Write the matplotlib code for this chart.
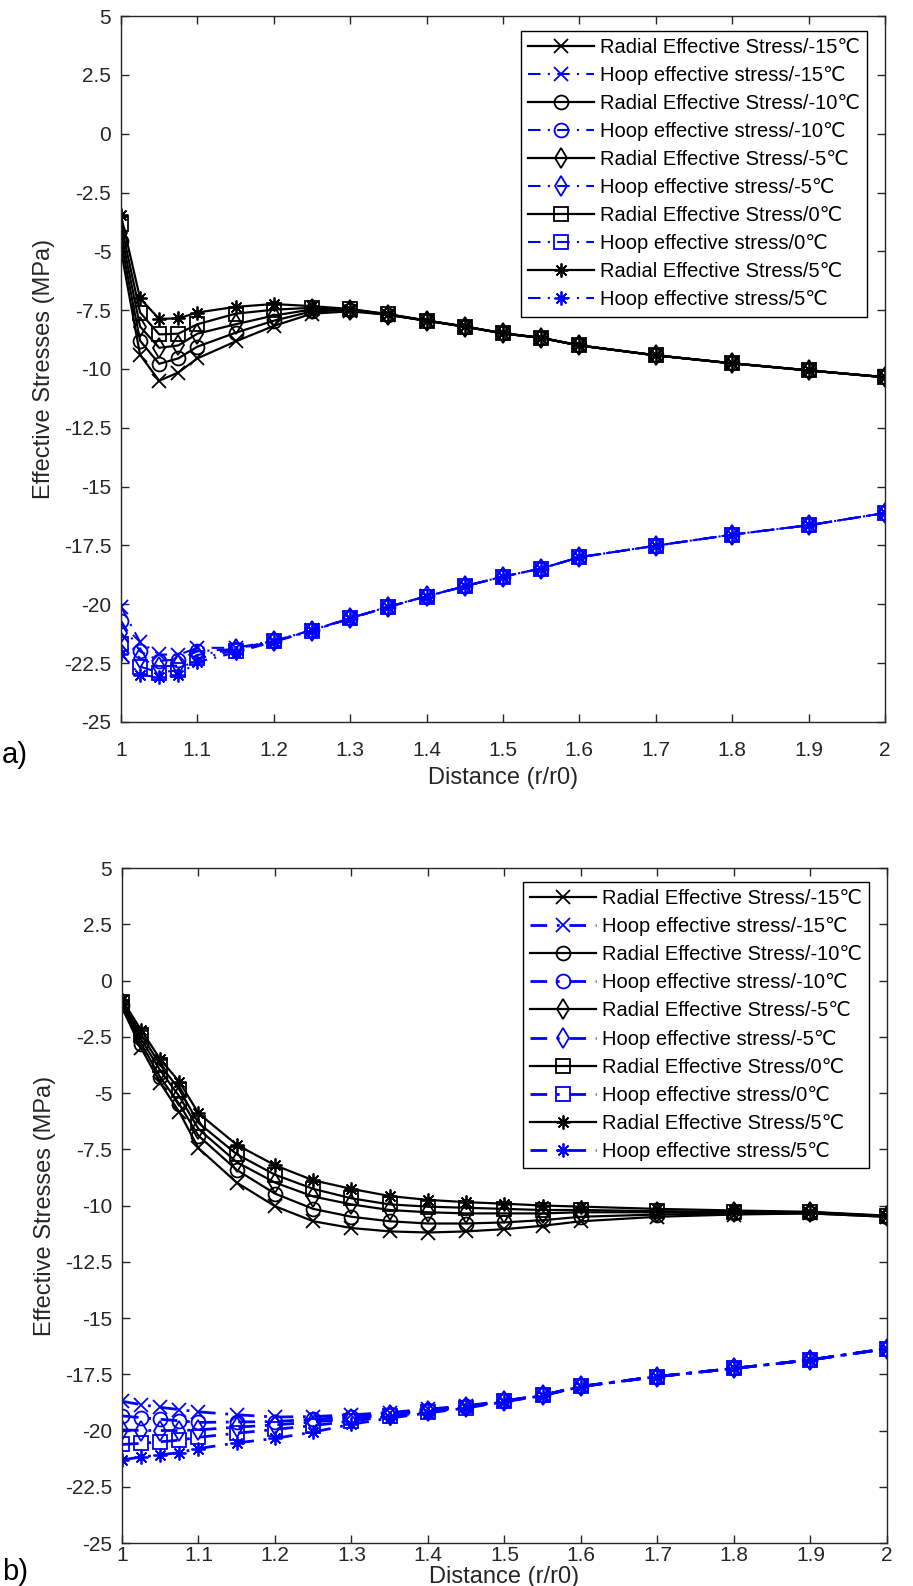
import numpy as np
import matplotlib
matplotlib.use('Agg')
import matplotlib.pyplot as plt

plt.rcParams['font.family'] = ['Liberation Sans', 'DejaVu Sans']
plt.rcParams['axes.unicode_minus'] = False

# radial distance r/r0
dist = [1.0, 1.025, 1.05, 1.075, 1.1, 1.15, 1.2, 1.25, 1.3, 1.35,
        1.4, 1.45, 1.5, 1.55, 1.6, 1.7, 1.8, 1.9, 2.0]
temps = ['-15', '-10', '-5', '0', '5']

# a) radial effective stress (MPa)
rad_a_m15 = [-4.95, -9.4, -10.5, -10.15, -9.55, -8.83, -8.17, -7.65, -7.55, -7.7,
             -7.95, -8.2, -8.49, -8.68, -9.0, -9.42, -9.76, -10.06, -10.35]
rad_a_m10 = [-4.57, -8.8, -9.78, -9.55, -9.05, -8.46, -7.95, -7.55, -7.5, -7.7,
             -7.95, -8.2, -8.49, -8.68, -9.0, -9.42, -9.76, -10.06, -10.35]
rad_a_m5 = [-4.2, -8.2, -9.1, -9.0, -8.5, -8.1, -7.73, -7.47, -7.48, -7.69,
            -7.95, -8.2, -8.49, -8.68, -9.0, -9.42, -9.76, -10.06, -10.35]
rad_a_0 = [-3.85, -7.6, -8.53, -8.5, -8.1, -7.65, -7.48, -7.4, -7.47, -7.68,
           -7.94, -8.2, -8.48, -8.68, -9.0, -9.42, -9.76, -10.06, -10.35]
rad_a_p5 = [-3.47, -7.0, -7.87, -7.85, -7.6, -7.36, -7.24, -7.33, -7.45, -7.67,
            -7.94, -8.19, -8.48, -8.67, -9.0, -9.42, -9.76, -10.06, -10.35]

# a) hoop effective stress (MPa)
hoop_a_m15 = [-20.1, -21.6, -22.13, -22.15, -21.85, -21.85, -21.55, -21.1, -20.59, -20.1,
              -19.66, -19.23, -18.82, -18.48, -18.0, -17.51, -17.04, -16.64, -16.12]
hoop_a_m10 = [-20.7, -22.0, -22.4, -22.35, -22.0, -21.9, -21.55, -21.1, -20.59, -20.1,
              -19.66, -19.23, -18.82, -18.48, -18.0, -17.51, -17.04, -16.64, -16.12]
hoop_a_m5 = [-21.2, -22.3, -22.65, -22.6, -22.15, -21.92, -21.57, -21.12, -20.6, -20.1,
             -19.66, -19.23, -18.82, -18.48, -18.0, -17.51, -17.04, -16.64, -16.12]
hoop_a_0 = [-21.7, -22.65, -22.9, -22.8, -22.3, -21.97, -21.58, -21.12, -20.6, -20.11,
            -19.67, -19.23, -18.82, -18.48, -18.0, -17.51, -17.04, -16.64, -16.12]
hoop_a_p5 = [-22.1, -23.0, -23.1, -23.0, -22.45, -22.05, -21.6, -21.13, -20.61, -20.11,
             -19.67, -19.24, -18.83, -18.48, -18.0, -17.51, -17.04, -16.64, -16.12]

# b) radial effective stress (MPa)
rad_b_m15 = [-1.2, -3.0, -4.55, -5.85, -7.45, -8.98, -10.03, -10.7, -11.0, -11.15,
             -11.2, -11.15, -11.05, -10.9, -10.7, -10.5, -10.4, -10.35, -10.5]
rad_b_m10 = [-1.1, -2.8, -4.3, -5.5, -6.9, -8.42, -9.47, -10.15, -10.5, -10.7,
             -10.8, -10.8, -10.75, -10.65, -10.5, -10.4, -10.35, -10.35, -10.5]
rad_b_m5 = [-1.0, -2.6, -4.0, -5.15, -6.6, -8.07, -8.98, -9.6, -9.95, -10.2,
            -10.3, -10.35, -10.35, -10.35, -10.3, -10.3, -10.3, -10.3, -10.48]
rad_b_0 = [-0.95, -2.4, -3.75, -4.85, -6.33, -7.72, -8.63, -9.26, -9.68, -9.95,
           -10.05, -10.1, -10.15, -10.2, -10.2, -10.25, -10.28, -10.3, -10.47]
rad_b_p5 = [-0.85, -2.2, -3.5, -4.5, -5.9, -7.3, -8.21, -8.88, -9.26, -9.58,
            -9.75, -9.85, -9.92, -10.0, -10.05, -10.15, -10.22, -10.28, -10.45]

# b) hoop effective stress (MPa)
hoop_b_m15 = [-18.7, -18.85, -18.97, -19.07, -19.17, -19.3, -19.4, -19.38, -19.3, -19.2,
              -19.05, -18.9, -18.68, -18.43, -18.04, -17.6, -17.24, -16.86, -16.36]
hoop_b_m10 = [-19.35, -19.43, -19.5, -19.57, -19.64, -19.62, -19.6, -19.5, -19.4, -19.25,
              -19.1, -18.93, -18.69, -18.43, -18.04, -17.6, -17.24, -16.86, -16.36]
hoop_b_m5 = [-19.97, -20.0, -20.0, -20.0, -19.97, -19.85, -19.75, -19.62, -19.48, -19.3,
             -19.13, -18.95, -18.7, -18.43, -18.04, -17.6, -17.24, -16.86, -16.36]
hoop_b_0 = [-20.62, -20.57, -20.5, -20.43, -20.3, -20.12, -19.95, -19.78, -19.58, -19.37,
            -19.17, -18.98, -18.7, -18.44, -18.04, -17.6, -17.24, -16.86, -16.36]
hoop_b_p5 = [-21.3, -21.18, -21.08, -20.98, -20.8, -20.55, -20.35, -20.07, -19.72, -19.45,
             -19.22, -19.0, -18.72, -18.45, -18.05, -17.6, -17.24, -16.86, -16.36]

markers = ['x', 'o', 'd', 's', (8, 2, 0)]
axis_col = '#262626'


def draw_panel(ax, radial, hoop, hoop_lw, xpad, xlabelpad):
    for i, t in enumerate(temps):
        ax.plot(dist, radial[i], color='k', lw=1.6, marker=markers[i], ms=10,
                mfc='none', mec='k', mew=1.3,
                label='Radial Effective Stress/' + t + '\u2103')
        ax.plot(dist, hoop[i], color='b', lw=hoop_lw, marker=markers[i], ms=10,
                mfc='none', mec='b', mew=1.3, dashes=(6, 3.5, 1, 3.5),
                label='Hoop effective stress/' + t + '\u2103')
    ax.set_xlim(1, 2)
    ax.set_ylim(-25, 5)
    ax.set_xticks(np.arange(1, 2.01, 0.1))
    ax.set_xticklabels(['%g' % round(v, 1) for v in np.arange(1, 2.01, 0.1)])
    ax.set_yticks(np.arange(-25, 5.01, 2.5))
    ax.set_yticklabels(['%g' % v for v in np.arange(-25, 5.01, 2.5)])
    ax.tick_params(direction='in', top=True, right=True, length=6, width=1,
                   labelsize=15, colors=axis_col)
    ax.tick_params(axis='y', pad=7)
    ax.tick_params(axis='x', pad=xpad)
    for s in ax.spines.values():
        s.set_color(axis_col)
        s.set_linewidth(1)
    ax.set_xlabel('Distance (r/r0)', fontsize=17, color=axis_col, labelpad=xlabelpad)
    ax.set_ylabel('Effective Stresses (MPa)', fontsize=17, color=axis_col, labelpad=6)
    leg = ax.legend(loc='upper right', bbox_to_anchor=(0.977, 0.979), borderaxespad=0,
                    fontsize=14.5, fancybox=False, framealpha=1, edgecolor='k',
                    handlelength=3.3, handletextpad=0.3, labelspacing=0.45,
                    borderpad=0.35)
    leg.get_frame().set_linewidth(1)


fig = plt.figure(figsize=(9.13, 15.86), dpi=100)
ax_a = fig.add_axes([0.1325, 0.5448, 0.8368, 0.4451])
ax_b = fig.add_axes([0.1336, 0.0271, 0.8379, 0.4256])

draw_panel(ax_a, [rad_a_m15, rad_a_m10, rad_a_m5, rad_a_0, rad_a_p5],
           [hoop_a_m15, hoop_a_m10, hoop_a_m5, hoop_a_0, hoop_a_p5], 1.5, 14, 5)
draw_panel(ax_b, [rad_b_m15, rad_b_m10, rad_b_m5, rad_b_0, rad_b_p5],
           [hoop_b_m15, hoop_b_m10, hoop_b_m5, hoop_b_0, hoop_b_p5], 2.0, 2, 1)

fig.text(0.002, 0.524, 'a)', fontsize=21, ha='left', va='center')
fig.text(0.002, 0.009, 'b)', fontsize=21, ha='left', va='center')

fig.savefig('out.png', dpi=100)
